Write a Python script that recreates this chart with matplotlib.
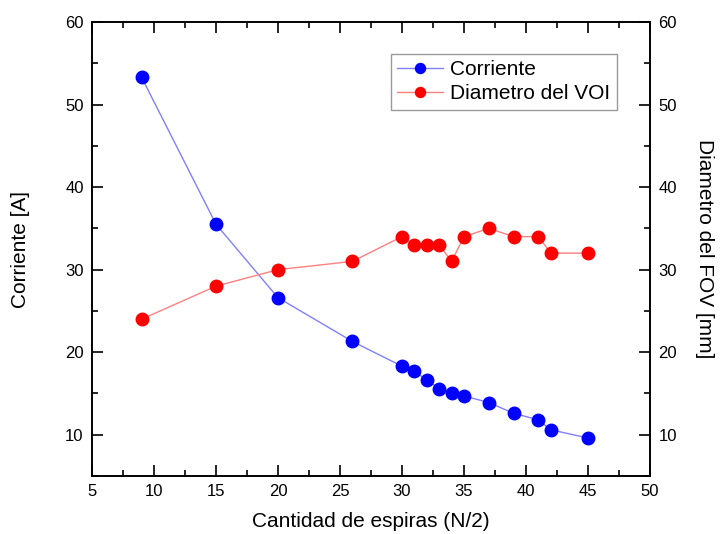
import matplotlib
matplotlib.use("Agg")
import matplotlib.pyplot as plt
from matplotlib.ticker import MultipleLocator

plt.rcParams['font.family'] = ['Liberation Sans', 'DejaVu Sans']

espiras = [9, 15, 20, 26, 30, 31, 32, 33, 34, 35, 37, 39, 41, 42, 45]
corriente = [53.3, 35.5, 26.6, 21.3, 18.3, 17.7, 16.6, 15.6, 15.1, 14.7, 13.9, 12.6, 11.8, 10.6, 9.6]
diametro = [24, 28, 30, 31, 34, 33, 33, 33, 31, 34, 35, 34, 34, 32, 32]

fig = plt.figure(figsize=(7.27, 5.34), dpi=100)
ax = fig.add_axes([92 / 727, 1 - 476 / 534, 558 / 727, 454 / 534])
ax2 = ax.twinx()

l1, = ax.plot(espiras, corriente, color='#8080ff', lw=1, marker='o', ms=9,
              mfc='blue', mec='blue', label='Corriente')
l2, = ax2.plot(espiras, diametro, color='#ff8080', lw=1, marker='o', ms=9,
               mfc='red', mec='red', label='Diametro del VOI')

for a in (ax, ax2):
    a.set_ylim(5, 60)
    a.yaxis.set_major_locator(MultipleLocator(10))
    a.yaxis.set_minor_locator(MultipleLocator(5))
ax.set_xlim(5, 50)
ax.xaxis.set_major_locator(MultipleLocator(5))
ax.xaxis.set_minor_locator(MultipleLocator(2.5))

ax.tick_params(which='both', direction='in', top=True, right=False, labelsize=12, width=1.2, pad=6)
ax.tick_params(which='major', length=8)
ax.tick_params(which='minor', length=4)
ax2.tick_params(which='both', direction='in', labelsize=12, width=1.2, pad=6)
ax2.tick_params(which='major', length=8)
ax2.tick_params(which='minor', length=4)
for a in (ax, ax2):
    for s in a.spines.values():
        s.set_linewidth(1.2)

ax.set_xlabel('Cantidad de espiras (N/2)', fontsize=15, labelpad=9)
ax.set_ylabel('Corriente [A]', fontsize=15, labelpad=25)
ax2.set_ylabel('Diametro del FOV [mm]', fontsize=15, rotation=270, labelpad=27)

leg = ax2.legend([l1, l2], ['Corriente', 'Diametro del VOI'], loc='upper left',
                 bbox_to_anchor=(391 / 727, 1 - 54 / 534), bbox_transform=fig.transFigure,
                 borderaxespad=0, fontsize=15, frameon=True, fancybox=False,
                 handlelength=2.2, markerscale=0.8,
                 borderpad=0.3, labelspacing=0.25, handletextpad=0.35)
leg.get_frame().set_edgecolor('#808080')
leg.get_frame().set_linewidth(1)

fig.savefig('out.png', dpi=100)
